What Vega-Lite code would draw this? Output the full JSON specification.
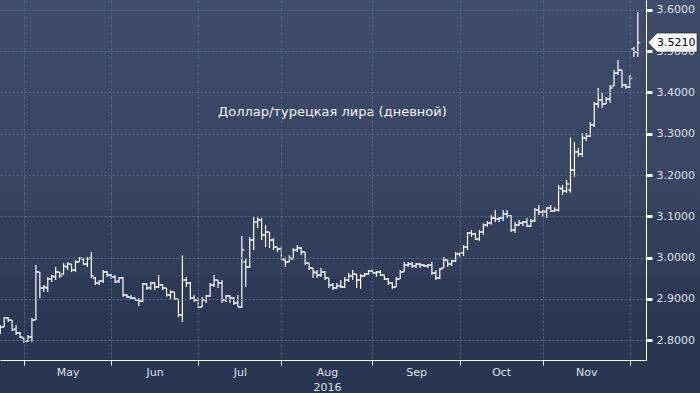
{
  "$schema": "https://vega.github.io/schema/vega-lite/v6.json",
  "width": 646,
  "height": 360,
  "autosize": "none",
  "padding": {"left": 0, "top": 0, "right": 54, "bottom": 33},
  "background": "#2a3651",
  "config": {
    "view": {"stroke": null}
  },
  "datasets": {
    "ohlc": [
      {"i":-1,"o":2.8145,"h":2.8364,"l":2.8145,"c":2.8315},
      {"i":0,"o":2.8315,"h":2.8558,"l":2.8315,"c":2.8533},
      {"i":1,"o":2.8533,"h":2.8558,"l":2.8436,"c":2.8485},
      {"i":2,"o":2.8485,"h":2.8485,"l":2.8218,"c":2.8242},
      {"i":3,"o":2.8267,"h":2.8364,"l":2.8121,"c":2.8170},
      {"i":4,"o":2.8170,"h":2.8194,"l":2.8048,"c":2.8073},
      {"i":5,"o":2.8048,"h":2.8048,"l":2.7927,"c":2.7976},
      {"i":6,"o":2.7976,"h":2.8121,"l":2.7952,"c":2.8073},
      {"i":7,"o":2.8073,"h":2.8533,"l":2.7952,"c":2.8485},
      {"i":8,"o":2.8485,"h":2.9818,"l":2.8485,"c":2.9648},
      {"i":9,"o":2.9648,"h":2.9648,"l":2.9018,"c":2.9261},
      {"i":10,"o":2.9261,"h":2.9333,"l":2.9164,"c":2.9285},
      {"i":11,"o":2.9261,"h":2.9527,"l":2.9164,"c":2.9479},
      {"i":12,"o":2.9479,"h":2.9576,"l":2.9406,"c":2.9552},
      {"i":13,"o":2.9527,"h":2.9770,"l":2.9455,"c":2.9648},
      {"i":14,"o":2.9648,"h":2.9648,"l":2.9503,"c":2.9552},
      {"i":15,"o":2.9600,"h":2.9867,"l":2.9576,"c":2.9794},
      {"i":16,"o":2.9770,"h":2.9891,"l":2.9697,"c":2.9842},
      {"i":17,"o":2.9842,"h":2.9842,"l":2.9648,"c":2.9697},
      {"i":18,"o":2.9697,"h":2.9939,"l":2.9648,"c":2.9891},
      {"i":19,"o":2.9891,"h":3.0012,"l":2.9891,"c":2.9988},
      {"i":20,"o":2.9964,"h":2.9988,"l":2.9818,"c":2.9842},
      {"i":21,"o":2.9842,"h":3.0012,"l":2.9770,"c":2.9964},
      {"i":22,"o":2.9988,"h":3.0133,"l":2.9503,"c":2.9552},
      {"i":23,"o":2.9503,"h":2.9527,"l":2.9333,"c":2.9382},
      {"i":24,"o":2.9382,"h":2.9455,"l":2.9333,"c":2.9430},
      {"i":25,"o":2.9430,"h":2.9697,"l":2.9382,"c":2.9648},
      {"i":26,"o":2.9648,"h":2.9673,"l":2.9527,"c":2.9576},
      {"i":27,"o":2.9576,"h":2.9600,"l":2.9479,"c":2.9527},
      {"i":28,"o":2.9527,"h":2.9576,"l":2.9382,"c":2.9406},
      {"i":29,"o":2.9430,"h":2.9527,"l":2.9382,"c":2.9503},
      {"i":30,"o":2.9503,"h":2.9527,"l":2.9042,"c":2.9091},
      {"i":31,"o":2.9091,"h":2.9115,"l":2.9018,"c":2.9042},
      {"i":32,"o":2.9042,"h":2.9091,"l":2.8994,"c":2.9018},
      {"i":33,"o":2.9018,"h":2.9042,"l":2.8970,"c":2.8970},
      {"i":34,"o":2.8970,"h":2.9018,"l":2.8824,"c":2.8945},
      {"i":35,"o":2.8945,"h":2.9382,"l":2.8921,"c":2.9358},
      {"i":36,"o":2.9358,"h":2.9382,"l":2.9212,"c":2.9261},
      {"i":37,"o":2.9261,"h":2.9406,"l":2.9212,"c":2.9382},
      {"i":38,"o":2.9382,"h":2.9406,"l":2.9212,"c":2.9285},
      {"i":39,"o":2.9285,"h":2.9576,"l":2.9261,"c":2.9333},
      {"i":40,"o":2.9333,"h":2.9358,"l":2.9212,"c":2.9261},
      {"i":41,"o":2.9261,"h":2.9261,"l":2.9042,"c":2.9091},
      {"i":42,"o":2.9091,"h":2.9212,"l":2.8994,"c":2.9164},
      {"i":43,"o":2.9164,"h":2.9164,"l":2.8970,"c":2.8994},
      {"i":44,"o":2.8994,"h":2.8994,"l":2.8558,"c":2.8606},
      {"i":45,"o":2.8606,"h":3.0061,"l":2.8436,"c":2.9455},
      {"i":46,"o":2.9455,"h":2.9527,"l":2.9285,"c":2.9382},
      {"i":47,"o":2.9382,"h":2.9406,"l":2.8970,"c":2.9018},
      {"i":48,"o":2.9018,"h":2.9091,"l":2.8921,"c":2.8970},
      {"i":49,"o":2.8970,"h":2.9042,"l":2.8776,"c":2.8800},
      {"i":50,"o":2.8800,"h":2.9042,"l":2.8800,"c":2.8970},
      {"i":51,"o":2.8970,"h":2.9091,"l":2.8897,"c":2.9067},
      {"i":52,"o":2.9067,"h":2.9382,"l":2.9042,"c":2.9333},
      {"i":53,"o":2.9333,"h":2.9576,"l":2.9285,"c":2.9455},
      {"i":54,"o":2.9455,"h":2.9455,"l":2.9261,"c":2.9382},
      {"i":55,"o":2.9382,"h":2.9455,"l":2.8897,"c":2.8970},
      {"i":56,"o":2.8970,"h":2.9091,"l":2.8921,"c":2.9067},
      {"i":57,"o":2.9067,"h":2.9091,"l":2.8897,"c":2.9018},
      {"i":58,"o":2.9018,"h":2.9042,"l":2.8848,"c":2.8897},
      {"i":59,"o":2.8897,"h":2.9091,"l":2.8800,"c":2.8800},
      {"i":60,"o":2.8800,"h":3.0521,"l":2.8776,"c":3.0182},
      {"i":61,"o":2.9891,"h":2.9988,"l":2.9285,"c":2.9770},
      {"i":62,"o":2.9770,"h":3.0497,"l":2.9745,"c":3.0424},
      {"i":63,"o":3.0424,"h":3.0982,"l":3.0182,"c":3.0861},
      {"i":64,"o":3.0861,"h":3.0982,"l":3.0715,"c":3.0909},
      {"i":65,"o":3.0909,"h":3.0958,"l":3.0424,"c":3.0545},
      {"i":66,"o":3.0545,"h":3.0788,"l":3.0255,"c":3.0618},
      {"i":67,"o":3.0618,"h":3.0618,"l":3.0230,"c":3.0424},
      {"i":68,"o":3.0424,"h":3.0473,"l":3.0182,"c":3.0255},
      {"i":69,"o":3.0255,"h":3.0255,"l":3.0133,"c":3.0206},
      {"i":70,"o":3.0206,"h":3.0255,"l":2.9939,"c":2.9964},
      {"i":71,"o":2.9939,"h":3.0012,"l":2.9770,"c":2.9891},
      {"i":72,"o":2.9891,"h":3.0061,"l":2.9891,"c":2.9988},
      {"i":73,"o":2.9964,"h":3.0230,"l":2.9939,"c":3.0182},
      {"i":74,"o":3.0182,"h":3.0303,"l":3.0133,"c":3.0230},
      {"i":75,"o":3.0230,"h":3.0255,"l":3.0061,"c":3.0133},
      {"i":76,"o":3.0133,"h":3.0133,"l":2.9818,"c":2.9867},
      {"i":77,"o":2.9867,"h":2.9867,"l":2.9697,"c":2.9745},
      {"i":78,"o":2.9745,"h":2.9745,"l":2.9503,"c":2.9648},
      {"i":79,"o":2.9624,"h":2.9697,"l":2.9503,"c":2.9576},
      {"i":80,"o":2.9576,"h":2.9745,"l":2.9527,"c":2.9648},
      {"i":81,"o":2.9648,"h":2.9673,"l":2.9455,"c":2.9503},
      {"i":82,"o":2.9503,"h":2.9503,"l":2.9261,"c":2.9333},
      {"i":83,"o":2.9333,"h":2.9382,"l":2.9212,"c":2.9261},
      {"i":84,"o":2.9261,"h":2.9382,"l":2.9236,"c":2.9309},
      {"i":85,"o":2.9309,"h":2.9455,"l":2.9261,"c":2.9285},
      {"i":86,"o":2.9285,"h":2.9527,"l":2.9261,"c":2.9455},
      {"i":87,"o":2.9455,"h":2.9624,"l":2.9406,"c":2.9552},
      {"i":88,"o":2.9552,"h":2.9697,"l":2.9455,"c":2.9600},
      {"i":89,"o":2.9600,"h":2.9600,"l":2.9261,"c":2.9455},
      {"i":90,"o":2.9455,"h":2.9600,"l":2.9236,"c":2.9552},
      {"i":91,"o":2.9552,"h":2.9624,"l":2.9527,"c":2.9600},
      {"i":92,"o":2.9600,"h":2.9697,"l":2.9576,"c":2.9673},
      {"i":93,"o":2.9673,"h":2.9721,"l":2.9600,"c":2.9624},
      {"i":94,"o":2.9624,"h":2.9673,"l":2.9527,"c":2.9648},
      {"i":95,"o":2.9648,"h":2.9697,"l":2.9552,"c":2.9576},
      {"i":96,"o":2.9576,"h":2.9576,"l":2.9455,"c":2.9479},
      {"i":97,"o":2.9479,"h":2.9503,"l":2.9333,"c":2.9382},
      {"i":98,"o":2.9382,"h":2.9406,"l":2.9236,"c":2.9285},
      {"i":99,"o":2.9285,"h":2.9527,"l":2.9285,"c":2.9479},
      {"i":100,"o":2.9479,"h":2.9697,"l":2.9479,"c":2.9648},
      {"i":101,"o":2.9648,"h":2.9891,"l":2.9648,"c":2.9818},
      {"i":102,"o":2.9818,"h":2.9891,"l":2.9770,"c":2.9842},
      {"i":103,"o":2.9842,"h":2.9891,"l":2.9745,"c":2.9794},
      {"i":104,"o":2.9794,"h":2.9867,"l":2.9745,"c":2.9842},
      {"i":105,"o":2.9842,"h":2.9867,"l":2.9745,"c":2.9818},
      {"i":106,"o":2.9818,"h":2.9842,"l":2.9770,"c":2.9794},
      {"i":107,"o":2.9794,"h":2.9842,"l":2.9745,"c":2.9818},
      {"i":108,"o":2.9818,"h":2.9891,"l":2.9576,"c":2.9624},
      {"i":109,"o":2.9624,"h":2.9697,"l":2.9455,"c":2.9503},
      {"i":110,"o":2.9503,"h":2.9745,"l":2.9479,"c":2.9721},
      {"i":111,"o":2.9745,"h":3.0012,"l":2.9745,"c":2.9939},
      {"i":112,"o":2.9939,"h":2.9939,"l":2.9770,"c":2.9842},
      {"i":113,"o":2.9842,"h":2.9939,"l":2.9794,"c":2.9915},
      {"i":114,"o":2.9915,"h":3.0133,"l":2.9891,"c":3.0085},
      {"i":115,"o":3.0085,"h":3.0133,"l":3.0012,"c":3.0109},
      {"i":116,"o":3.0109,"h":3.0303,"l":3.0036,"c":3.0255},
      {"i":117,"o":3.0255,"h":3.0618,"l":3.0182,"c":3.0594},
      {"i":118,"o":3.0594,"h":3.0667,"l":3.0497,"c":3.0570},
      {"i":119,"o":3.0570,"h":3.0594,"l":3.0424,"c":3.0448},
      {"i":120,"o":3.0448,"h":3.0667,"l":3.0400,"c":3.0618},
      {"i":121,"o":3.0618,"h":3.0836,"l":3.0545,"c":3.0788},
      {"i":122,"o":3.0788,"h":3.0885,"l":3.0739,"c":3.0836},
      {"i":123,"o":3.0836,"h":3.1030,"l":3.0788,"c":3.0958},
      {"i":124,"o":3.0958,"h":3.1152,"l":3.0861,"c":3.0933},
      {"i":125,"o":3.0933,"h":3.0982,"l":3.0861,"c":3.0958},
      {"i":126,"o":3.0958,"h":3.1152,"l":3.0885,"c":3.1055},
      {"i":127,"o":3.1055,"h":3.1152,"l":3.0958,"c":3.1006},
      {"i":128,"o":3.1006,"h":3.1030,"l":3.0618,"c":3.0667},
      {"i":129,"o":3.0667,"h":3.0861,"l":3.0594,"c":3.0788},
      {"i":130,"o":3.0788,"h":3.0909,"l":3.0764,"c":3.0836},
      {"i":131,"o":3.0836,"h":3.0885,"l":3.0764,"c":3.0861},
      {"i":132,"o":3.0861,"h":3.0958,"l":3.0739,"c":3.0764},
      {"i":133,"o":3.0764,"h":3.0933,"l":3.0739,"c":3.0885},
      {"i":134,"o":3.0885,"h":3.1200,"l":3.0861,"c":3.1152},
      {"i":135,"o":3.1152,"h":3.1273,"l":3.1030,"c":3.1103},
      {"i":136,"o":3.1103,"h":3.1152,"l":3.0982,"c":3.1127},
      {"i":137,"o":3.1103,"h":3.1224,"l":3.0958,"c":3.1200},
      {"i":138,"o":3.1200,"h":3.1273,"l":3.1103,"c":3.1127},
      {"i":139,"o":3.1127,"h":3.1224,"l":3.1103,"c":3.1152},
      {"i":140,"o":3.1152,"h":3.1758,"l":3.1103,"c":3.1685},
      {"i":141,"o":3.1661,"h":3.1758,"l":3.1515,"c":3.1612},
      {"i":142,"o":3.1612,"h":3.1879,"l":3.1564,"c":3.1782},
      {"i":143,"o":3.1636,"h":3.2921,"l":3.1564,"c":3.2121},
      {"i":144,"o":3.2121,"h":3.2800,"l":3.1952,"c":3.2558},
      {"i":145,"o":3.2558,"h":3.2655,"l":3.2436,"c":3.2509},
      {"i":146,"o":3.2509,"h":3.3018,"l":3.2436,"c":3.2897},
      {"i":147,"o":3.2897,"h":3.3018,"l":3.2824,"c":3.2945},
      {"i":148,"o":3.2945,"h":3.3285,"l":3.2921,"c":3.3212},
      {"i":149,"o":3.3212,"h":3.3770,"l":3.3164,"c":3.3721},
      {"i":150,"o":3.3721,"h":3.4109,"l":3.3624,"c":3.3818},
      {"i":151,"o":3.3818,"h":3.3988,"l":3.3624,"c":3.3721},
      {"i":152,"o":3.3721,"h":3.3891,"l":3.3721,"c":3.3842},
      {"i":153,"o":3.3842,"h":3.4182,"l":3.3745,"c":3.4109},
      {"i":154,"o":3.4158,"h":3.4545,"l":3.4158,"c":3.4473},
      {"i":155,"o":3.4473,"h":3.4788,"l":3.4424,"c":3.4545},
      {"i":156,"o":3.4545,"h":3.4545,"l":3.4109,"c":3.4182},
      {"i":157,"o":3.4182,"h":3.4206,"l":3.4085,"c":3.4133},
      {"i":158,"o":3.4133,"h":3.4424,"l":3.4109,"c":3.4352},
      {"i":159,"o":3.5055,"h":3.5103,"l":3.4861,"c":3.4982},
      {"i":160,"o":3.4982,"h":3.5952,"l":3.4861,"c":3.5210}
    ],
    "last": [{"last": 3.5210}],
    "note": [{"label": "Доллар/турецкая лира (дневной)", "x": 54, "y": 3.3527}]
  },
  "layer": [
    {
      "data": {"values": [{}]},
      "mark": {
        "type": "rect",
        "clip": false,
        "zindex": 0,
        "fill": {
          "gradient": "linear", "x1": 0, "y1": 0, "x2": 0, "y2": 1,
          "stops": [
            {"offset": 0, "color": "#3f4c6b"},
            {"offset": 0.535, "color": "#37435f"},
            {"offset": 0.536, "color": "#333f5b"},
            {"offset": 0.705, "color": "#313d59"},
            {"offset": 0.706, "color": "#2d3955"},
            {"offset": 1, "color": "#293550"}
          ]
        }
      },
      "encoding": {
        "x": {"datum": -1.2, "type": "quantitative", "scale": {"domain": [-1.06, 162.07], "nice": false, "zero": false},
          "axis": {
            "orient": "bottom",
            "zindex": 1,
            "title": null,
            "values": [5, 16, 27, 38, 49, 59.5, 70, 81.5, 93, 104, 115, 125.5, 136, 147, 158],
            "labelExpr": "datum.value == 16 ? 'May' : datum.value == 38 ? 'Jun' : datum.value == 59.5 ? 'Jul' : datum.value == 81.5 ? ['Aug', '2016'] : datum.value == 104 ? 'Sep' : datum.value == 125.5 ? 'Oct' : datum.value == 147 ? 'Nov' : ''",
            "labelFont": "DejaVu Sans",
            "labelFontSize": 11,
            "labelColor": "#dde1e8",
            "labelPadding": 1,
            "labelLineHeight": 15,
            "labelFlush": false,
            "labelOverlap": false,
            "domainColor": "#ffffff",
            "domainWidth": 1,
            "tickColor": "#ffffff",
            "tickSize": 5,
            "tickWidth": 1,
            "tickOpacity": {"condition": {"test": "indexof([5,27,49,70,93,115,136,158], datum.value) >= 0", "value": 1}, "value": 0},
            "grid": true,
            "gridColor": "#4e6f8e",
            "gridDash": [2, 2],
            "gridWidth": 1,
            "gridOpacity": {"condition": {"test": "indexof([5,27,49,70,93,115,136,158], datum.value) >= 0", "value": 1}, "value": 0}
          }
        },
        "x2": {"datum": 176},
        "y": {"datum": 3.63, "type": "quantitative", "scale": {"domain": [2.75152, 3.62424], "nice": false, "zero": false},
          "axis": {
            "orient": "right",
            "zindex": 1,
            "title": null,
            "values": [2.8, 2.85, 2.9, 2.95, 3.0, 3.05, 3.1, 3.15, 3.2, 3.25, 3.3, 3.35, 3.4, 3.45, 3.5, 3.55, 3.6],
            "labelExpr": "abs(datum.value * 10 - round(datum.value * 10)) < 0.01 ? format(datum.value, '.4f') : ''",
            "labelFont": "DejaVu Sans",
            "labelFontSize": 11,
            "labelColor": "#dde1e8",
            "labelPadding": 4,
            "labelOverlap": false,
            "labelFlush": false,
            "domainColor": "#ffffff",
            "domainWidth": 1,
            "tickColor": "#ffffff",
            "tickSize": 6,
            "tickWidth": {"condition": {"test": "abs(datum.value * 10 - round(datum.value * 10)) < 0.01", "value": 3}, "value": 1},
            "grid": true,
            "gridColor": "#4e6f8e",
            "gridDash": [2, 2],
            "gridWidth": 1,
            "gridOpacity": {"condition": {"test": "abs(datum.value * 10 - round(datum.value * 10)) < 0.01", "value": 1}, "value": 0}
          }
        },
        "y2": {"datum": 2.67}
      }
    },
    {
      "data": {"name": "ohlc"},
      "mark": {"type": "rule", "color": "#ffffff", "strokeWidth": 1.2, "zindex": 2, "clip": true},
      "encoding": {
        "x": {"field": "i", "type": "quantitative"},
        "y": {"field": "l", "type": "quantitative"},
        "y2": {"field": "h"}
      }
    },
    {
      "data": {"name": "ohlc"},
      "mark": {"type": "tick", "orient": "horizontal", "color": "#ffffff", "size": 2.6, "thickness": 1.2, "xOffset": -1.3, "opacity": 1, "zindex": 2, "clip": true},
      "encoding": {
        "x": {"field": "i", "type": "quantitative"},
        "y": {"field": "o", "type": "quantitative"}
      }
    },
    {
      "data": {"name": "ohlc"},
      "mark": {"type": "tick", "orient": "horizontal", "color": "#ffffff", "size": 2.6, "thickness": 1.2, "xOffset": 1.3, "opacity": 1, "zindex": 2, "clip": true},
      "encoding": {
        "x": {"field": "i", "type": "quantitative"},
        "y": {"field": "c", "type": "quantitative"}
      }
    },
    {
      "data": {"name": "note"},
      "mark": {"type": "text", "align": "left", "baseline": "middle", "font": "DejaVu Sans", "fontSize": 13, "color": "#f2f2f2", "zindex": 2},
      "encoding": {
        "x": {"field": "x", "type": "quantitative"},
        "y": {"field": "y", "type": "quantitative"},
        "text": {"field": "label"}
      }
    },
    {
      "data": {"name": "last"},
      "mark": {"type": "point", "shape": "M0.2,0L1.1,-0.95L5.1,-0.95L5.1,0.95L1.1,0.95Z", "size": 400, "filled": true, "fill": "#ffffff", "stroke": "#1a1a1a", "strokeWidth": 0.6, "opacity": 1, "zindex": 3, "clip": false},
      "encoding": {
        "x": {"datum": 162.07, "type": "quantitative"},
        "y": {"field": "last", "type": "quantitative"}
      }
    },
    {
      "data": {"name": "last"},
      "mark": {"type": "text", "align": "left", "baseline": "middle", "dx": 11, "font": "DejaVu Sans", "fontSize": 11, "color": "#000000", "zindex": 4, "clip": false},
      "encoding": {
        "x": {"datum": 162.07, "type": "quantitative"},
        "y": {"field": "last", "type": "quantitative"},
        "text": {"field": "last", "type": "quantitative", "format": ".4f"}
      }
    }
  ]
}
